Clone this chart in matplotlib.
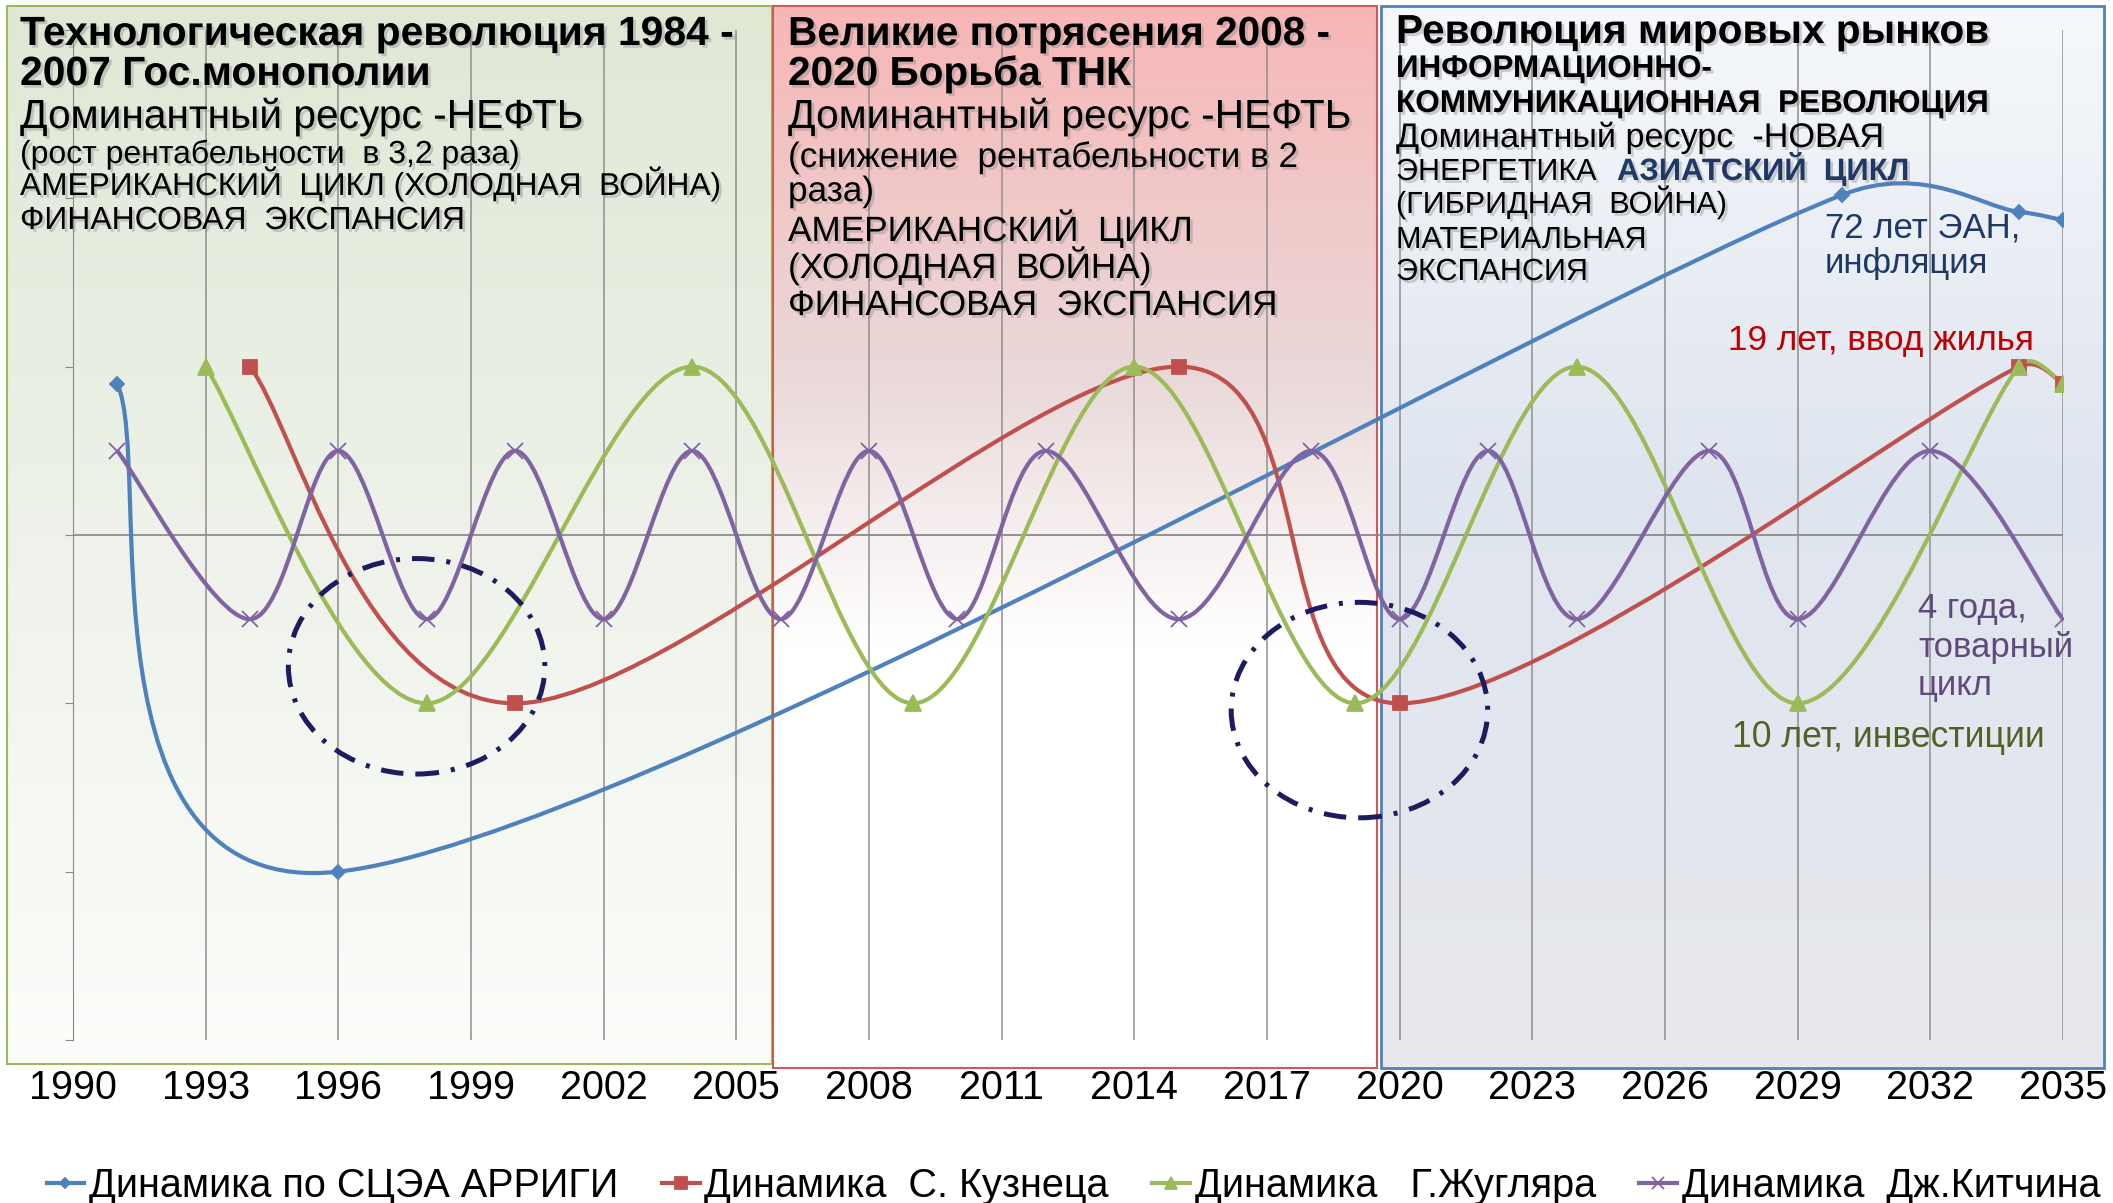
import numpy as np
import matplotlib
matplotlib.use("Agg")
import matplotlib.pyplot as plt
import matplotlib.colors as mcolors
import matplotlib.patheffects as pe
from matplotlib.path import Path
from matplotlib.patches import PathPatch, Ellipse, Rectangle
from matplotlib.lines import Line2D

plt.rcParams["font.family"] = ["Liberation Sans", "DejaVu Sans"]

W, H = 2113, 1203

# data (year, relative level)
arrighi_years = [1991, 1996, 2030, 2034, 2035]
arrighi_vals = [0.9, -2.0, 2.02, 1.92, 1.87]

kuznets_years = [1994, 2000, 2015, 2020, 2034, 2035]
kuznets_vals = [1, -1, 1, -1, 1, 0.9]

juglar_years = [1993, 1998, 2004, 2009, 2014, 2019, 2024, 2029, 2034, 2035]
juglar_vals = [1, -1, 1, -1, 1, -1, 1, -1, 1, 0.9]

kitchin_years = [1991, 1994, 1996, 1998, 2000, 2002, 2004, 2006, 2008, 2010,
                 2012, 2015, 2018, 2020, 2022, 2024, 2027, 2029, 2032, 2035]
kitchin_vals = [0.5, -0.5, 0.5, -0.5, 0.5, -0.5, 0.5, -0.5, 0.5, -0.5,
                0.5, -0.5, 0.5, -0.5, 0.5, -0.5, 0.5, -0.5, 0.5, -0.5]

legend_labels = ["Динамика по СЦЭА АРРИГИ", "Динамика  С. Кузнеца",
                 "Динамика   Г.Жугляра", "Динамика  Дж.Китчина"]
tick_years = list(range(1990, 2036, 3))


def smooth_path(xs, ys, ax):
    # excel-style smoothed line, built in screen space then mapped back to data
    p = ax.transData.transform(np.column_stack([xs, ys]).astype(float))
    n = len(p)

    def handle(a, b, seg):
        h = (b - a) / 6
        L = np.hypot(*h)
        lim = 0.5 * seg
        return h * (lim / L) if L > lim else h

    verts, codes = [p[0]], [Path.MOVETO]
    for i in range(n - 1):
        seg = np.hypot(*(p[i + 1] - p[i]))
        c1 = p[i] + handle(p[max(i - 1, 0)], p[i + 1], seg)
        c2 = p[i + 1] - handle(p[i], p[min(i + 2, n - 1)], seg)
        verts += [c1, c2, p[i + 1]]
        codes += [Path.CURVE4] * 3
    return Path(ax.transData.inverted().transform(np.array(verts)), codes)


fig = plt.figure(figsize=(W / 100, H / 100), dpi=100)

# background boxes (pixel coords)
bg = fig.add_axes([0, 0, 1, 1], zorder=0)


def gradient_box(x0, x1, y0, y1, stops, edge, lw):
    pos = [s[0] for s in stops]
    cols = np.array([mcolors.to_rgb(s[1]) for s in stops])
    t = np.linspace(0, 1, 300)
    img = np.stack([np.interp(t, pos, cols[:, k]) for k in range(3)], axis=-1)[:, None, :]
    bg.imshow(img, extent=(x0, x1, y1, y0), aspect="auto", interpolation="bilinear")
    bg.add_patch(Rectangle((x0, y0), x1 - x0, y1 - y0, fill=False, edgecolor=edge, lw=lw))


gradient_box(7, 772, 6, 1064, [(0, "#dfe8d5"), (0.5, "#eef2ea"), (1, "#fdfdfb")], "#9bbb59", 1.5)
gradient_box(773, 1377, 6, 1068, [(0, "#f8b6b6"), (0.35, "#ead9d9"), (0.6, "#ffffff"), (1, "#ffffff")], "#d05a57", 1.5)
gradient_box(1381, 2104, 6, 1068, [(0, "#f6f8fb"), (0.45, "#dfe5ef"), (1, "#e8e9ed")], "#4f81bd", 2)
bg.set_xlim(0, W)
bg.set_ylim(H, 0)
bg.axis("off")

# main chart
ax = fig.add_axes([73 / W, 1 - 1040 / H, 1990 / W, 1010 / H], zorder=1)
ax.patch.set_alpha(0)
ax.set_xlim(1990, 2035)
ax.set_ylim(-3, 3)
ax.set_xticks(tick_years)
ax.set_yticks(range(-3, 4))
ax.set_yticklabels([])
ax.grid(axis="x", color="#8f8f8f", lw=1.1)
ax.axhline(0, color="#8a8a8a", lw=1.3)
for s in ["top", "right", "bottom"]:
    ax.spines[s].set_visible(False)
ax.spines["left"].set_color("#8a8a8a")
ax.tick_params(axis="y", length=6, color="#8a8a8a")
ax.tick_params(axis="x", length=0, pad=21, labelsize=28.5)

series = [
    (arrighi_years, arrighi_vals, "#4f81bd", "D", 7, legend_labels[0]),
    (kuznets_years, kuznets_vals, "#c0504d", "s", 10, legend_labels[1]),
    (juglar_years, juglar_vals, "#9bbb59", "^", 11, legend_labels[2]),
    (kitchin_years, kitchin_vals, "#8064a2", "x", 11, legend_labels[3]),
]
handles = []
for xs, ys, col, mk, ms, lab in series:
    ax.add_patch(PathPatch(smooth_path(xs, ys, ax), fill=False, edgecolor=col, lw=3, zorder=3))
    ax.plot(xs, ys, ls="none", marker=mk, ms=ms, color=col, mew=1.3, zorder=4)
    handles.append(Line2D([], [], color=col, lw=3, marker=mk, ms=ms * 0.8, mew=1.3))

# dash-dot circles
for cx, cy in [(1997.77, -0.78), (2019.09, -1.04)]:
    ax.add_patch(Ellipse((cx, cy), 5.8, 1.28, fill=False, edgecolor="#1c1c5e", lw=3.6,
                         linestyle=(0, (4.5, 2.4, 0.8, 2.4)), zorder=5))

# text overlay (pixel coords)
ov = fig.add_axes([0, 0, 1, 1], zorder=2)
ov.set_xlim(0, W)
ov.set_ylim(H, 0)
ov.axis("off")
shadow = [pe.withSimplePatchShadow(offset=(2, -2), shadow_rgbFace="#7f7f7f", alpha=0.35)]


def label(x, y, s, size, bold=False, color="black", fx=True):
    ov.text(x, y, s, fontsize=size, fontweight="bold" if bold else "normal", color=color,
            va="baseline", ha="left", path_effects=shadow if fx else None)


# green box
label(20, 45, "Технологическая революция 1984 -", 29.4, True)
label(20, 85, "2007 Гос.монополии", 29.4, True)
label(20, 128, "Доминантный ресурс -НЕФТЬ", 29.3)
label(20, 163, "(рост рентабельности  в 3,2 раза)", 23)
label(20, 195, "АМЕРИКАНСКИЙ  ЦИКЛ (ХОЛОДНАЯ  ВОЙНА)", 22.8)
label(20, 229, "ФИНАНСОВАЯ  ЭКСПАНСИЯ", 23)

# red box
label(788, 45, "Великие потрясения 2008 -", 29.2, True)
label(788, 85, "2020 Борьба ТНК", 29.2, True)
label(788, 128, "Доминантный ресурс -НЕФТЬ", 29.3)
label(788, 167, "(снижение  рентабельности в 2", 25.3)
label(788, 201, "раза)", 25.3)
label(788, 241, "АМЕРИКАНСКИЙ  ЦИКЛ", 25.3)
label(788, 278, "(ХОЛОДНАЯ  ВОЙНА)", 25.3)
label(788, 315, "ФИНАНСОВАЯ  ЭКСПАНСИЯ", 25.3)

# blue box
label(1396, 43, "Революция мировых рынков", 29.2, True)
label(1396, 77, "ИНФОРМАЦИОННО-", 22.6, True)
label(1396, 112, "КОММУНИКАЦИОННАЯ  РЕВОЛЮЦИЯ", 22.7, True)
label(1396, 147, "Доминантный ресурс  -НОВАЯ", 24.6)
label(1396, 180, "ЭНЕРГЕТИКА", 22)
label(1617, 180, "АЗИАТСКИЙ  ЦИКЛ", 22.3, True, "#1f3864")
label(1396, 213, "(ГИБРИДНАЯ  ВОЙНА)", 22)
label(1396, 248, "МАТЕРИАЛЬНАЯ", 22)
label(1396, 280, "ЭКСПАНСИЯ", 22)

# cycle notes
label(1825, 238, "72 лет ЭАН,", 25, color="#1f3864", fx=False)
label(1825, 273, "инфляция", 25, color="#1f3864", fx=False)
label(1728, 350, "19 лет, ввод жилья", 25.3, color="#c00000", fx=False)
label(1918, 618, "4 года,", 25, color="#604a7b", fx=False)
label(1918, 657, "товарный", 25, color="#604a7b", fx=False)
label(1918, 695, "цикл", 25, color="#604a7b", fx=False)
label(1732, 747, "10 лет, инвестиции", 25.6, color="#4f6228", fx=False)

fig.legend(handles, legend_labels, loc="center", bbox_to_anchor=(0.508, 1 - 1186 / H),
           ncol=4, frameon=False, fontsize=28.5, handlelength=0.95, handletextpad=0.12,
           columnspacing=1.1)

fig.savefig("out.png", dpi=100)
